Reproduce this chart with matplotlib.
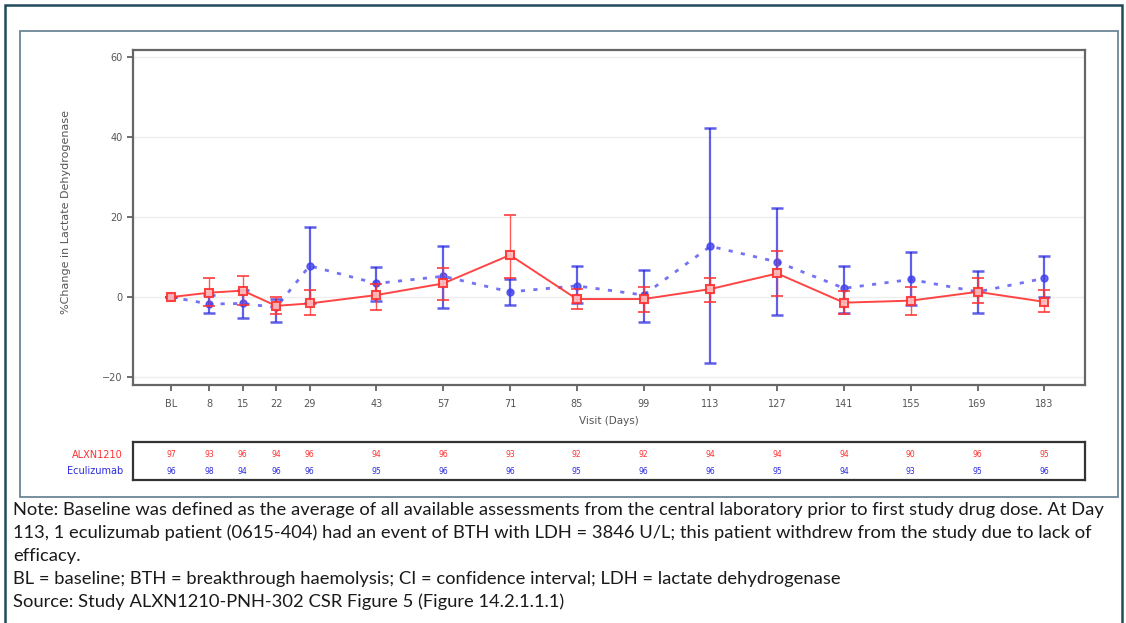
import matplotlib
matplotlib.use("Agg")
import matplotlib.pyplot as plt
from matplotlib.patches import Rectangle

# visits (study day) and labels
days = [0, 8, 15, 22, 29, 43, 57, 71, 85, 99, 113, 127, 141, 155, 169, 183]
day_labels = ["BL", "8", "15", "22", "29", "43", "57", "71", "85", "99",
              "113", "127", "141", "155", "169", "183"]

# ALXN1210: mean % change and 95% CI
alxn_mean = [0, 1.1, 1.6, -2.2, -1.6, 0.5, 3.4, 10.5, -0.5, -0.5, 2.0, 5.9, -1.4, -0.9, 1.3, -1.2]
alxn_lo = [0, -2.3, -2.0, -4.3, -4.5, -3.2, -0.8, 4.8, -3.0, -3.7, -1.2, 0.3, -4.3, -4.5, -1.5, -3.7]
alxn_hi = [0, 4.7, 5.3, 0.0, 1.8, 3.3, 7.2, 20.5, 2.0, 2.4, 4.7, 11.6, 1.5, 2.6, 4.7, 1.8]

# Eculizumab: mean % change and 95% CI
ecu_mean = [0, -1.75, -1.6, -2.6, 7.8, 3.4, 5.2, 1.3, 2.8, 0.5, 12.7, 8.8, 2.2, 4.4, 1.3, 4.7]
ecu_lo = [0, -4.1, -5.3, -6.2, -1.5, -1.0, -2.8, -2.0, -1.5, -6.2, -16.4, -4.5, -4.1, -2.0, -4.1, 0.0]
ecu_hi = [0, 0.6, 1.8, -0.5, 17.5, 7.4, 12.7, 4.5, 7.75, 6.75, 42.3, 22.4, 7.75, 11.2, 6.6, 10.3]

# patients at each visit
alxn_n = [97, 93, 96, 94, 96, 94, 96, 93, 92, 92, 94, 94, 94, 90, 96, 95]
ecu_n = [96, 98, 94, 96, 96, 95, 96, 96, 95, 96, 96, 95, 94, 93, 95, 96]

notes = [
    "Note: Baseline was defined as the average of all available assessments from the central laboratory prior to first study drug dose. At Day",
    "113, 1 eculizumab patient (0615-404) had an event of BTH with LDH = 3846 U/L; this patient withdrew from the study due to lack of",
    "efficacy.",
    "BL = baseline; BTH = breakthrough haemolysis; CI = confidence interval; LDH = lactate dehydrogenase",
    "Source: Study ALXN1210-PNH-302 CSR Figure 5 (Figure 14.2.1.1.1)",
]

W, H = 1126, 623
RED = "#ff3030"
BLUE = "#2a2ae0"
GRAY = "#555555"


def fx(px):
    return px / W


def fy(py):
    return 1 - py / H


def main():
    fig = plt.figure(figsize=(W / 100, H / 100), dpi=100)

    # outer and inner frames
    fig.add_artist(Rectangle((fx(5), fy(640)), fx(1117), 635 / H, transform=fig.transFigure,
                             fill=False, edgecolor="#1f4a5a", lw=1.8))
    fig.add_artist(Rectangle((fx(20), fy(497)), fx(1098), 466 / H, transform=fig.transFigure,
                             fill=False, edgecolor="#6a8796", lw=1.3))

    ax = fig.add_axes([fx(133), fy(385), fx(1085 - 133), (385 - 50) / H])
    xlim = (-8, 191.5)

    ax.errorbar(days, ecu_mean,
                yerr=[[m - l for m, l in zip(ecu_mean, ecu_lo)],
                      [h - m for m, h in zip(ecu_mean, ecu_hi)]],
                fmt="none", ecolor=BLUE, elinewidth=1.6, capsize=4.5, capthick=1.8,
                alpha=0.75, zorder=3)
    ax.plot(days, ecu_mean, color="#5050f0", lw=2, linestyle=(0, (1.5, 3)),
            marker="o", markersize=5, markerfacecolor="#4040ee", markeredgecolor="#4040ee",
            alpha=0.8, zorder=4)

    ax.errorbar(days, alxn_mean,
                yerr=[[m - l for m, l in zip(alxn_mean, alxn_lo)],
                      [h - m for m, h in zip(alxn_mean, alxn_hi)]],
                fmt="none", ecolor=RED, elinewidth=1.0, capsize=4, capthick=1.4,
                alpha=0.8, zorder=5)
    ax.plot(days, alxn_mean, color=RED, lw=1.4, marker="s", markersize=5.5,
            markerfacecolor="#ffc0c0", markeredgecolor=RED, markeredgewidth=1.5,
            alpha=0.9, zorder=6)

    ax.set_xlim(*xlim)
    ax.set_ylim(-22, 61.8)
    ax.set_yticks([-20, 0, 20, 40, 60])
    ax.set_xticks(days)
    ax.set_xticklabels(day_labels)
    ax.tick_params(axis="both", labelsize=7, colors=GRAY, length=4, width=1.2)
    ax.tick_params(axis="x", pad=6)
    ax.yaxis.grid(True, color="#eeeeee", lw=1)
    ax.set_axisbelow(True)
    for side in ["left", "bottom", "top", "right"]:
        ax.spines[side].set_color("#666666")
        ax.spines[side].set_linewidth(1.6)
    ax.set_xlabel("Visit (Days)", fontsize=7.5, color=GRAY, labelpad=5)

    fig.text(fx(66), fy(212), "%Change in Lactate Dehydrogenase", rotation=90,
             fontsize=8, color=GRAY, ha="center", va="center")

    # number of patients table
    tab = fig.add_axes([fx(133), fy(480), fx(1085 - 133), 38 / H])
    tab.set_xlim(*xlim)
    tab.set_ylim(0, 1)
    tab.set_xticks([])
    tab.set_yticks([])
    for side in ["left", "bottom", "top", "right"]:
        tab.spines[side].set_color("#333333")
        tab.spines[side].set_linewidth(1.6)
    for d, a, e in zip(days, alxn_n, ecu_n):
        tab.text(d, 0.66, str(a), color=RED, fontsize=5.5, ha="center", va="center")
        tab.text(d, 0.22, str(e), color=BLUE, fontsize=5.5, ha="center", va="center")
    fig.text(fx(123), fy(455), "ALXN1210", color=RED, fontsize=7, ha="right", va="center")
    fig.text(fx(123), fy(471.5), "Eculizumab", color=BLUE, fontsize=7, ha="right", va="center")

    # footnotes
    for i, line in enumerate(notes):
        fig.text(fx(13), fy(510 + 23 * i), line, fontsize=13.2, family="Lato",
                 color="#1a1a1a", ha="left", va="center")

    fig.savefig("out.png", dpi=100)


if __name__ == "__main__":
    main()
